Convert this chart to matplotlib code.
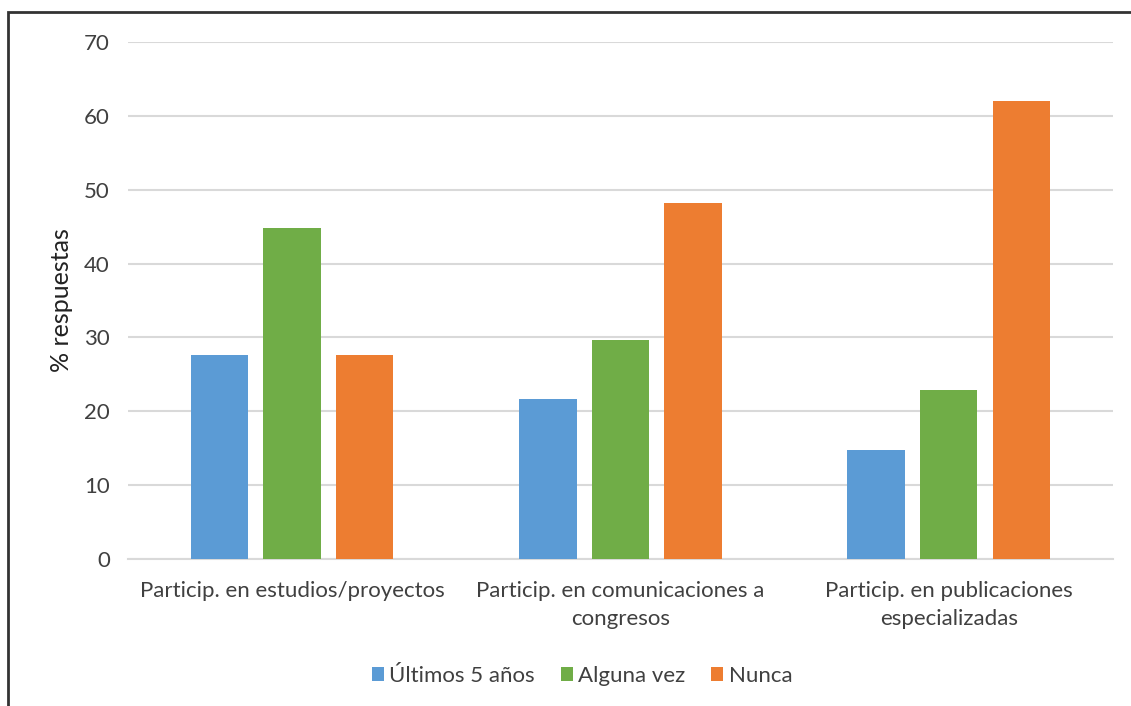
import numpy as np
import matplotlib.pyplot as plt
from matplotlib.patches import Rectangle

# Datos
categorias = ['Particip. en estudios/proyectos',
              'Particip. en comunicaciones a\ncongresos',
              'Particip. en publicaciones\nespecializadas']
ultimos_5 = [27.6, 21.7, 14.8]
alguna_vez = [44.8, 29.7, 22.9]
nunca = [27.6, 48.2, 62.0]
series = ['Últimos 5 años', 'Alguna vez', 'Nunca']
colores = ['#5B9BD5', '#70AD47', '#ED7D31']

plt.rcParams['font.family'] = ['Lato', 'DejaVu Sans']
texto = '#404040'

fig = plt.figure(figsize=(11.31, 7.06), dpi=100)
ax = fig.add_axes([0.1132, 0.2082, 0.8708, 0.7323])

x = np.arange(len(categorias))
width = 0.175
paso = 0.221
for i, (vals, nombre, c) in enumerate(zip([ultimos_5, alguna_vez, nunca], series, colores)):
    ax.bar(x + (i - 1) * paso, vals, width, color=c, label=nombre, zorder=3)

ax.set_xlim(-0.5, 2.5)
ax.set_ylim(0, 70)
ax.set_yticks(np.arange(0, 71, 10))
ax.grid(axis='y', color='#D9D9D9', linewidth=1.5, zorder=0)
for s in ['top', 'right', 'left']:
    ax.spines[s].set_visible(False)
ax.spines['bottom'].set_color('#D9D9D9')
ax.spines['bottom'].set_linewidth(1.5)
ax.tick_params(axis='both', length=0, labelsize=16, colors=texto)
ax.tick_params(axis='y', pad=13)
ax.tick_params(axis='x', pad=16)
ax.set_xticks(x)
ax.set_xticklabels(categorias, fontsize=16, color=texto, linespacing=1.5)
ax.set_ylabel('% respuestas', fontsize=18, color='#222222', labelpad=8)

ax.legend(loc='center', bbox_to_anchor=(0.461, -0.226), ncol=3, frameon=False,
          fontsize=16, handlelength=0.55, handleheight=0.55, handletextpad=0.25,
          columnspacing=1.15, labelcolor=texto)

# Marco
fig.add_artist(Rectangle((8 / 1131, -0.01), 1.1, 1 - 12 / 706 + 0.01,
                         transform=fig.transFigure, fill=False,
                         edgecolor='#333333', linewidth=2))

fig.savefig('out.png', dpi=100)
